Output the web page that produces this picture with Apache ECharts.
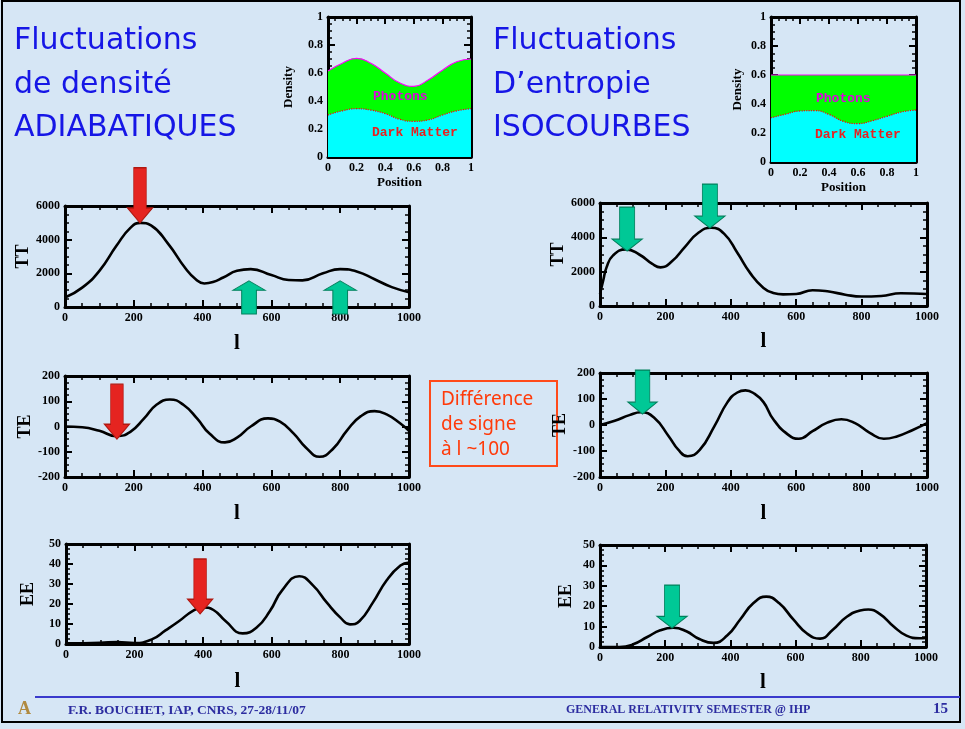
<!DOCTYPE html>
<html>
<head>
<meta charset="utf-8">
<script src="https://cdn.jsdelivr.net/npm/echarts@6/dist/echarts.min.js"></script>
<style>
  html, body { margin: 0; padding: 0; background: #d6e6f5; }
  #chart { width: 965px; height: 729px; }
</style>
</head>
<body>
<div id="chart"></div>
<script>
// density insets (position 0..1)
var posX = [0, 0.1, 0.2, 0.3, 0.4, 0.5, 0.6, 0.7, 0.8, 0.9, 1];
var adiaTotal = [0.615, 0.67, 0.705, 0.67, 0.6, 0.53, 0.505, 0.55, 0.62, 0.68, 0.7];
var adiaDM = [0.3, 0.33, 0.345, 0.335, 0.31, 0.27, 0.255, 0.265, 0.3, 0.33, 0.345];
var isoTotal = [0.6, 0.6, 0.6, 0.6, 0.6, 0.6, 0.6, 0.6, 0.6, 0.6, 0.6];
var isoDM = [0.305, 0.33, 0.352, 0.355, 0.328, 0.28, 0.265, 0.285, 0.315, 0.345, 0.358];

// spectra [l, value]
var ttAdia = [[0,560],[50,1150],[100,2150],[150,3650],[190,4700],[220,5000],[250,4850],[300,3750],[350,2300],[380,1650],[405,1400],[430,1480],[460,1750],[500,2150],[540,2250],[600,1900],[650,1600],[690,1580],[750,2000],[800,2250],[850,2100],[900,1650],[950,1180],[1000,880]];
var ttIso = [[0,700],[10,1500],[20,2250],[40,2950],[80,3300],[120,3000],[160,2450],[185,2250],[220,2600],[260,3450],[300,4250],[340,4560],[380,4200],[420,3100],[460,1900],[500,1050],[530,760],[560,680],[600,700],[650,920],[700,840],[750,660],[800,550],[860,580],[920,740],[1000,700]];
var teAdia = [[0,0],[50,-3],[100,-17],[150,-38],[190,-21],[230,32],[265,85],[305,107],[345,85],[385,30],[420,-28],[465,-63],[500,-44],[540,0],[590,32],[625,19],[665,-28],[700,-83],[740,-120],[780,-87],[820,-15],[860,41],[900,61],[935,48],[975,12],[1000,-17]];
var teIso = [[0,0],[45,16],[90,38],[125,49],[165,29],[210,-43],[240,-96],[268,-120],[305,-96],[350,-4],[390,88],[420,125],[445,133],[470,122],[500,88],[530,22],[575,-37],[608,-53],[650,-24],[695,9],[738,22],[780,7],[825,-30],[868,-53],[910,-43],[955,-20],[1000,7]];
var eeAdia = [[0,0.3],[100,0.6],[150,1],[200,0.5],[250,2.3],[290,6.8],[330,11.5],[370,16.6],[400,18.3],[430,17],[465,11.5],[515,5.3],[555,8.1],[595,16.6],[630,26.8],[680,33.9],[720,29.3],[760,20.8],[800,13.2],[828,9.8],[856,11.5],[895,20.8],[935,31.9],[975,39.2],[1000,40.7]];
var eeIso = [[0,0],[60,0],[100,1.2],[145,4.9],[185,8.2],[225,9.4],[265,7.7],[305,3.9],[348,2],[390,5.6],[430,13.5],[470,21.4],[510,24.7],[550,21.4],[593,13.5],[635,6.6],[675,4.1],[715,8.6],[757,14.8],[798,17.9],[823,18.4],[860,16],[900,10.2],[940,5.6],[980,4.3],[1000,4.4]];

// arrow tips [l, value]
var ttAdiaRed = [[218, 5000]];
var ttAdiaUp = [[535, 1550], [800, 1550]];
var ttIsoDown = [[83, 3200], [336, 4540]];
var teAdiaRed = [[151, -50]];
var teIsoDown = [[130, 42]];
var eeAdiaRed = [[391, 15]];
var eeIsoDown = [[221, 9.3]];

var RED = "#e52420", TEAL = "#00c896";
var downPath = "path://M25,0 L75,0 L75,73 L100,73 L50,100 L0,73 L25,73 Z";
var upPath = "path://M50,0 L100,28 L73,28 L73,100 L27,100 L27,28 L0,28 Z";
var serif = "'Liberation Serif', 'DejaVu Serif', serif";

var grids = [
  { left: 328, top: 17, width: 143, height: 140 },
  { left: 771, top: 17, width: 145, height: 145 },
  { left: 65, top: 206, width: 344, height: 101 },
  { left: 600, top: 203, width: 327, height: 103 },
  { left: 65, top: 376, width: 344, height: 101 },
  { left: 600, top: 373, width: 327, height: 104 },
  { left: 66, top: 544, width: 343, height: 100 },
  { left: 600, top: 545, width: 326, height: 102 }
];

var xAxes = [], yAxes = [];
function plain(v) { return String(v); }
function frame(i, x, y) {
  var line = { show: true, onZero: false, lineStyle: { color: "#000", width: 3 } };
  var tick = { show: true, inside: true, length: 7, lineStyle: { color: "#000", width: 2 } };
  var minor = { show: true, splitNumber: 4, length: 4, lineStyle: { color: "#000", width: 1.5 } };
  var lab = { color: "#000", fontFamily: serif, fontWeight: "bold", fontSize: 12, margin: 5, formatter: plain };
  xAxes.push({
    gridIndex: i, type: "value", min: x.min, max: x.max, interval: x.interval,
    axisLine: line, axisTick: tick, minorTick: minor, splitLine: { show: false },
    axisLabel: lab, name: x.name, nameLocation: "middle", nameGap: x.gap,
    nameTextStyle: { color: "#000", fontFamily: serif, fontWeight: "bold", fontSize: x.nameSize }
  });
  xAxes.push({
    gridIndex: i, type: "value", position: "top", min: x.min, max: x.max, interval: x.interval,
    axisLine: line, axisTick: tick, minorTick: minor, splitLine: { show: false }, axisLabel: { show: false }
  });
  yAxes.push({
    gridIndex: i, type: "value", min: y.min, max: y.max, interval: y.interval,
    axisLine: line, axisTick: tick, minorTick: minor, splitLine: { show: false },
    axisLabel: lab, name: y.name, nameLocation: "middle", nameGap: y.gap, nameRotate: 90,
    nameTextStyle: { color: "#000", fontFamily: serif, fontWeight: "bold", fontSize: y.nameSize }
  });
  yAxes.push({
    gridIndex: i, type: "value", position: "right", min: y.min, max: y.max, interval: y.interval,
    axisLine: line, axisTick: tick, minorTick: minor, splitLine: { show: false }, axisLabel: { show: false }
  });
}

var posAxis = { min: 0, max: 1, interval: 0.2, name: "Position", nameSize: 13, gap: 19 };
frame(0, posAxis, { min: 0, max: 1, interval: 0.2, name: "Density", nameSize: 13, gap: 33 });
frame(1, posAxis, { min: 0, max: 1, interval: 0.2, name: "Density", nameSize: 13, gap: 27 });
var lAxis = function (g) { return { min: 0, max: 1000, interval: 200, name: "l", nameSize: 21, gap: g }; };
frame(2, lAxis(26), { min: 0, max: 6000, interval: 2000, name: "TT", nameSize: 18, gap: 30 });
frame(3, lAxis(25), { min: 0, max: 6000, interval: 2000, name: "TT", nameSize: 18, gap: 27 });
frame(4, lAxis(26), { min: -200, max: 200, interval: 100, name: "TE", nameSize: 18, gap: 29 });
frame(5, lAxis(26), { min: -200, max: 200, interval: 100, name: "TE", nameSize: 18, gap: 22 });
frame(6, lAxis(27), { min: 0, max: 50, interval: 10, name: "EE", nameSize: 18, gap: 29 });
frame(7, lAxis(25), { min: 0, max: 50, interval: 10, name: "EE", nameSize: 18, gap: 25 });

function pairs(xs, ys) { return xs.map(function (x, k) { return [x, ys[k]]; }); }

function area(i, data, fill, stroke, dashed) {
  return {
    type: "line", xAxisIndex: 2 * i, yAxisIndex: 2 * i, data: data, smooth: true,
    showSymbol: false, areaStyle: { color: fill, opacity: 1 },
    lineStyle: { color: stroke, width: 1.2, type: dashed ? "dotted" : "solid" }
  };
}

function arrows(pts, up, color, w, h) {
  return {
    symbol: up ? upPath : downPath,
    symbolSize: [w, h],
    symbolOffset: [0, up ? "50%" : "-50%"],
    itemStyle: { color: color, borderColor: color === TEAL ? "#00805c" : "#b01810", borderWidth: 1 },
    label: { show: false },
    data: pts.map(function (p) { return { coord: p }; })
  };
}

function curve(i, data, mark) {
  return {
    type: "line", xAxisIndex: 2 * i, yAxisIndex: 2 * i, data: data, smooth: 0.5,
    showSymbol: false, lineStyle: { color: "#000", width: 2.6 }, z: 3,
    markPoint: mark
  };
}

var series = [
  area(0, pairs(posX, adiaTotal), "#00ff00", "#ff00ff", false),
  area(0, pairs(posX, adiaDM), "#00ffff", "#ff0000", true),
  area(1, pairs(posX, isoTotal), "#00ff00", "#ff00ff", false),
  area(1, pairs(posX, isoDM), "#00ffff", "#ff0000", true),
  curve(2, ttAdia, arrows(ttAdiaRed, false, RED, 25, 55)),
  curve(2, [], arrows(ttAdiaUp, true, TEAL, 32, 33)),
  curve(3, ttIso, arrows(ttIsoDown, false, TEAL, 30, 44)),
  curve(4, teAdia, arrows(teAdiaRed, false, RED, 25, 55)),
  curve(5, teIso, arrows(teIsoDown, false, TEAL, 29, 44)),
  curve(6, eeAdia, arrows(eeAdiaRed, false, RED, 25, 55)),
  curve(7, eeIso, arrows(eeIsoDown, false, TEAL, 30, 43))
];

var titleFont = "'DejaVu Sans', 'Noto Sans', sans-serif";
function title(x, y, s) {
  return { type: "text", left: x, top: y, style: { text: s, fill: "#1616e6", font: "30px " + titleFont } };
}
function small(x, y, s, color) {
  return { type: "text", left: x, top: y, z: 10, style: { text: s, fill: color, font: "bold 13px 'Liberation Mono', monospace" } };
}

var graphic = [
  { type: "rect", shape: { x: 2, y: 1, width: 958, height: 721 }, style: { fill: null, stroke: "#000", lineWidth: 2 } },
  title(14, 26, "Fluctuations"), title(14, 70, "de densité"), title(14, 113, "ADIABATIQUES"),
  title(493, 26, "Fluctuations"), title(493, 70, "D’entropie"), title(493, 113, "ISOCOURBES"),
  small(373, 90, "Photons", "#e000e0"), small(372, 126, "Dark Matter", "#e82020"),
  small(816, 92, "Photons", "#e000e0"), small(815, 128, "Dark Matter", "#e82020"),
  { type: "rect", shape: { x: 430, y: 381, width: 127, height: 85 }, style: { fill: null, stroke: "#ff4a1a", lineWidth: 2 } },
  { type: "text", left: 441, top: 387, style: { text: "Différence\nde signe\nà l ~100", fill: "#ff3a0a", font: "19px 'Noto Sans', sans-serif", lineHeight: 25 } },
  { type: "line", shape: { x1: 35, y1: 697, x2: 960, y2: 697 }, style: { stroke: "#3a3acc", lineWidth: 2 } },
  { type: "text", left: 18, top: 700, style: { text: "A", fill: "#b08a40", font: "bold 18px " + serif } },
  { type: "text", left: 68, top: 704, style: { text: "F.R. BOUCHET, IAP, CNRS, 27-28/11/07", fill: "#2c2ca0", font: "bold 13.5px " + serif } },
  { type: "text", left: 566, top: 704, style: { text: "GENERAL RELATIVITY SEMESTER @ IHP", fill: "#2c2ca0", font: "bold 12px " + serif } },
  { type: "text", left: 933, top: 702, style: { text: "15", fill: "#2c2ca0", font: "bold 15px " + serif } }
];

var myChart = echarts.init(document.getElementById("chart"));
myChart.setOption({
  backgroundColor: "#d6e6f5",
  animation: false,
  grid: grids,
  xAxis: xAxes,
  yAxis: yAxes,
  series: series,
  graphic: graphic
});
</script>
</body>
</html>
